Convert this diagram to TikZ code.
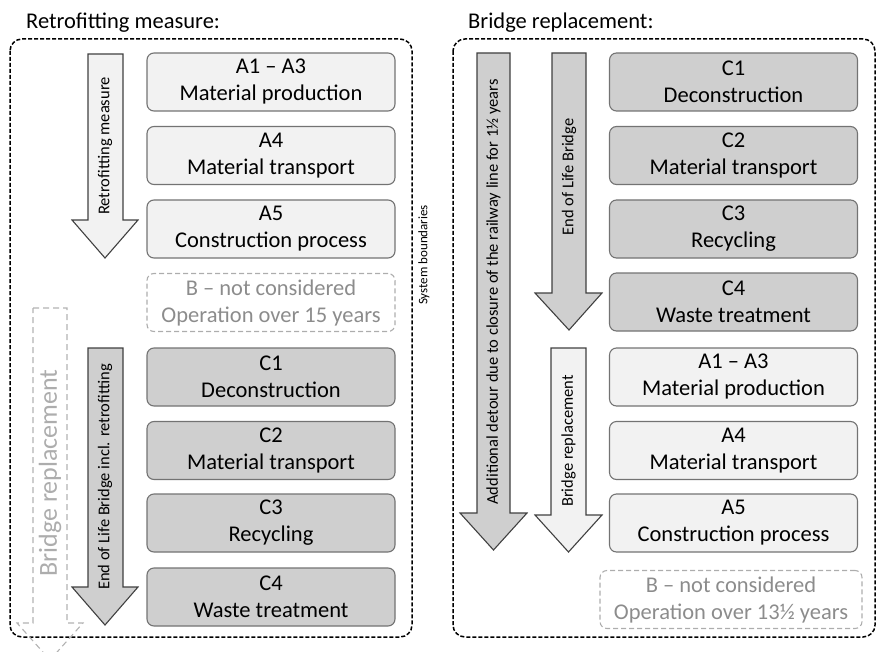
\documentclass[tikz,border=0pt]{standalone}
\usepackage{fontspec}
\setmainfont{Carlito}
\tikzset{
  lcbox/.style={draw=black!55, rounded corners=7pt, align=center, font=\fontsize{22.5}{27}\selectfont,
    inner sep=0pt, minimum width=248pt, minimum height=58pt, line width=1.1pt},
  lclight/.style={lcbox, fill=black!5},
  lcdark/.style={lcbox, fill=black!19},
  lcskip/.style={lcbox, draw=black!32, dash pattern=on 5pt off 3pt, text=black!45},
  lcframe/.style={draw=black, dash pattern=on 4pt off 2pt, line width=1.5pt, rounded corners=12pt},
  lcarrow/.style={draw=black!75, line width=1.1pt},
  lcghost/.style={draw=black!30, dash pattern=on 6pt off 4pt, line width=1.1pt},
  lclabel/.style={rotate=90, inner sep=0pt, font=\fontsize{16.5}{19}\selectfont},
  lctitle/.style={anchor=base west, inner sep=0pt, font=\fontsize{22.5}{26}\selectfont},
  lcsys/.style={rotate=90, inner sep=0pt, font=\fontsize{13}{15}\selectfont}
}
\begin{document}
\begin{tikzpicture}[x=1pt,y=-1pt]
  \useasboundingbox (0,0) rectangle (882,652);
  \node[lctitle] (tl) at (26,29) {Retrofitting measure:};
  \node[lctitle] (tr) at (468,29) {Bridge replacement:};
  \draw[lcframe] (10,39) rectangle (412,637);
  \draw[lcframe] (453,39) rectangle (875,637);
  \node[lcsys] (sl) at (424,255) {System boundaries};
  \node[lcsys] (sr) at (888,255) {System boundaries};

  \node[lclight] (r1) at (271,82) {A1 -- A3\\Material production};
  \node[lclight] (r2) at (271,155.5) {A4\\Material transport};
  \node[lclight] (r3) at (271,229) {A5\\Construction process};
  \node[lcskip] (r4) at (271,302.5) {B -- not considered\\Operation over 15 years};
  \node[lcdark] (r5) at (271,377) {C1\\Deconstruction};
  \node[lcdark] (r6) at (271,450.5) {C2\\Material transport};
  \node[lcdark] (r7) at (271,523) {C3\\Recycling};
  \node[lcdark] (r8) at (271,597) {C4\\Waste treatment};

  \node[lcdark] (b1) at (733.5,82) {C1\\Deconstruction};
  \node[lcdark] (b2) at (733.5,155.5) {C2\\Material transport};
  \node[lcdark] (b3) at (733.5,229) {C3\\Recycling};
  \node[lcdark] (b4) at (733.5,302) {C4\\Waste treatment};
  \node[lclight] (b5) at (733.5,377) {A1 -- A3\\Material production};
  \node[lclight] (b6) at (733.5,450.5) {A4\\Material transport};
  \node[lclight] (b7) at (733.5,523) {A5\\Construction process};
  \node[lcskip, minimum width=262pt] (b8) at (731,599.5) {B -- not considered\\Operation over 13½ years};

  \draw[lcarrow, fill=black!5] (88,54) -- (123,54) -- (123,220) -- (138,220) -- (105,258) -- (72,220) -- (88,220) -- cycle;
  \draw[lcarrow, fill=black!19] (88,348) -- (123,348) -- (123,587) -- (138,587) -- (105,625) -- (72,587) -- (88,587) -- cycle;
  \draw[lcghost] (33,308) -- (67,308) -- (67,623) -- (83,623) -- (50,660) -- (17,623) -- (33,623) -- cycle;
  \draw[lcarrow, fill=black!19] (477,53) -- (510,53) -- (510,513) -- (527,513) -- (493.5,550) -- (460,513) -- (477,513) -- cycle;
  \draw[lcarrow, fill=black!19] (552,53) -- (586,53) -- (586,293) -- (602,293) -- (569,330) -- (535,293) -- (552,293) -- cycle;
  \draw[lcarrow, fill=black!5] (551,348) -- (586,348) -- (586,515) -- (602,515) -- (568.5,552) -- (535,515) -- (551,515) -- cycle;

  \node[lclabel] (la) at (105,146) {Retrofitting measure};
  \node[lclabel] (lb) at (105,477) {End of Life Bridge incl. retrofitting};
  \node[lclabel, text=black!32, font=\fontsize{26}{30}\selectfont] (lc) at (50,473) {Bridge replacement};
  \node[lclabel] (ld) at (493.5,292) {Additional detour due to closure of the railway line for 1½ years};
  \node[lclabel] (le) at (569,177) {End of Life Bridge};
  \node[lclabel] (lf) at (568.5,441) {Bridge replacement};
\end{tikzpicture}
\end{document}
